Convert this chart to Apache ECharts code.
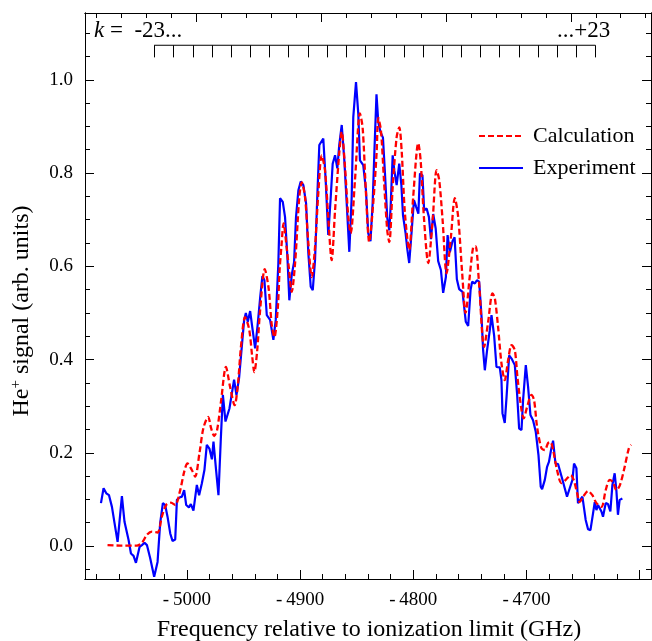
<!DOCTYPE html>
<html><head><meta charset="utf-8">
<script src="https://cdn.jsdelivr.net/npm/echarts@6/dist/echarts.min.js"></script>
<style>html,body{margin:0;padding:0;background:#fff}#c{width:652px;height:641px}</style>
</head><body><div id="c"></div>
<script>
// ---- data ----
const expFreq=[-5075.9,-5073.6,-5071.2,-5068.8,-5066.2,-5063.9,-5061.2,-5057.4,-5055.1,-5051.5,
-5049.4,-5047.1,-5045.0,-5041.8,-5039.7,-5037.4,-5035.3,-5032.4,-5028.9,-5025.9,
-5023.6,-5021.2,-5019.2,-5017.1,-5014.7,-5012.7,-5010.3,-5008.8,-5006.5,-5004.4,
-5002.4,-5000.6,-4998.2,-4996.5,-4994.2,-4991.2,-4989.2,-4986.8,-4984.5,-4982.4,
-4980.1,-4977.9,-4976.5,-4974.2,-4972.1,-4970.0,-4968.2,-4965.9,-4962.4,-4960.3,
-4958.3,-4956.2,-4953.9,-4951.5,-4949.4,-4947.9,-4946.2,-4944.1,-4942.1,-4939.7,
-4937.5,-4935.3,-4933.3,-4931.5,-4929.4,-4926.5,-4923.6,-4921.5,-4919.2,-4917.7,
-4915.3,-4913.3,-4911.2,-4909.5,-4907.4,-4905.3,-4903.6,-4901.5,-4899.4,-4897.1,
-4894.7,-4892.7,-4890.6,-4888.8,-4886.8,-4884.8,-4883.0,-4881.5,-4879.5,-4877.4,
-4875.1,-4872.9,-4871.2,-4869.1,-4867.1,-4865.4,-4863.2,-4860.9,-4858.8,-4856.5,
-4854.4,-4853.0,-4850.6,-4848.6,-4847.1,-4844.2,-4841.8,-4839.8,-4837.8,-4835.9,
-4834.3,-4832.5,-4830.9,-4829.0,-4826.8,-4825.0,-4823.0,-4821.2,-4819.9,-4818.2,
-4816.8,-4814.7,-4812.4,-4810.5,-4809.1,-4806.9,-4805.2,-4803.6,-4801.5,-4799.4,
-4797.4,-4795.5,-4794.1,-4791.9,-4790.4,-4788.2,-4786.2,-4784.4,-4782.4,-4780.2,
-4778.0,-4775.6,-4773.6,-4771.2,-4769.7,-4767.7,-4765.3,-4763.5,-4761.5,-4759.5,
-4756.5,-4753.6,-4751.5,-4749.4,-4748.0,-4745.6,-4743.8,-4741.8,-4739.7,-4738.3,
-4736.8,-4734.8,-4732.4,-4730.9,-4728.6,-4726.5,-4725.1,-4723.6,-4722.1,-4721.2,
-4719.2,-4717.6,-4715.3,-4713.2,-4710.3,-4708.3,-4706.5,-4704.4,-4703.0,-4700.6,
-4698.6,-4696.5,-4694.2,-4691.8,-4689.4,-4687.4,-4686.2,-4683.8,-4681.8,-4680.1,
-4678.3,-4676.5,-4674.4,-4672.1,-4670.6,-4668.2,-4666.2,-4664.2,-4661.8,-4659.4,
-4658.0,-4655.9,-4654.5,-4653.0,-4650.6,-4649.2,-4647.7,-4645.6,-4643.5,-4641.2,
-4639.7,-4638.2,-4636.8,-4633.8,-4632.4,-4630.0,-4628.0,-4625.9,-4624.1,-4622.1,
-4620.6,-4619.2,-4617.7,-4615.3];
const expSignal=[0.092,0.124,0.113,0.109,0.084,0.049,0.009,0.107,0.052,0.013,
-0.016,-0.021,-0.036,-0.002,0.002,0.007,0.002,-0.026,-0.066,-0.034,
0.049,0.092,0.088,0.063,0.027,0.011,0.014,0.099,0.104,0.106,
0.120,0.088,0.083,0.090,0.076,0.131,0.109,0.134,0.163,0.217,
0.209,0.186,0.224,0.163,0.109,0.231,0.324,0.267,0.295,0.327,
0.357,0.324,0.360,0.427,0.485,0.500,0.481,0.504,0.467,0.424,
0.474,0.532,0.579,0.570,0.495,0.485,0.442,0.485,0.606,0.746,
0.738,0.706,0.620,0.527,0.581,0.609,0.705,0.763,0.782,0.774,
0.735,0.628,0.556,0.549,0.613,0.749,0.860,0.862,0.874,0.785,
0.667,0.749,0.820,0.838,0.810,0.860,0.903,0.827,0.735,0.631,
0.749,0.920,0.995,0.928,0.827,0.817,0.763,0.671,0.654,0.735,
0.849,0.969,0.909,0.888,0.876,0.799,0.704,0.677,0.733,0.838,
0.806,0.774,0.820,0.774,0.710,0.673,0.635,0.607,0.673,0.742,
0.727,0.713,0.799,0.795,0.720,0.724,0.706,0.658,0.712,0.681,
0.611,0.592,0.543,0.577,0.667,0.630,0.654,0.662,0.572,0.551,
0.545,0.481,0.472,0.549,0.567,0.563,0.570,0.567,0.492,0.420,
0.377,0.420,0.463,0.495,0.452,0.384,0.381,0.383,0.356,0.285,
0.264,0.320,0.409,0.402,0.388,0.327,0.252,0.249,0.313,0.388,
0.342,0.281,0.270,0.245,0.195,0.127,0.122,0.142,0.170,0.181,
0.206,0.226,0.177,0.176,0.175,0.142,0.124,0.106,0.124,0.142,
0.177,0.167,0.092,0.090,0.106,0.104,0.056,0.036,0.034,0.070,
0.094,0.077,0.088,0.074,0.063,0.092,0.090,0.074,0.131,0.156,
0.120,0.067,0.099,0.102];
const calcFreq=[-5070.1,-5058.9,-5044.1,-5039.7,-5035.3,-5030.9,-5025.9,-5022.1,-5018.3,-5014.1,
-5010.3,-5005.9,-5002.4,-4999.5,-4995.6,-4992.7,-4988.9,-4985.4,-4981.2,-4978.6,
-4975.9,-4973.3,-4969.7,-4965.5,-4961.8,-4957.8,-4955.0,-4952.1,-4948.6,-4945.0,
-4942.4,-4940.4,-4938.0,-4935.3,-4931.2,-4927.8,-4925.0,-4922.7,-4919.7,-4918.1,
-4916.4,-4914.6,-4911.8,-4909.7,-4907.4,-4904.4,-4900.7,-4898.5,-4895.6,-4892.7,
-4889.7,-4886.8,-4883.9,-4880.9,-4878.0,-4875.1,-4872.1,-4869.1,-4865.4,-4863.2,
-4860.3,-4857.4,-4855.3,-4851.5,-4847.1,-4844.7,-4841.8,-4838.9,-4835.4,-4832.4,
-4830.9,-4828.6,-4825.9,-4823.0,-4821.2,-4818.2,-4814.7,-4812.4,-4810.3,-4807.4,
-4803.6,-4800.1,-4795.6,-4793.5,-4790.6,-4786.8,-4782.9,-4779.4,-4777.1,-4774.1,
-4770.6,-4766.8,-4763.3,-4760.4,-4756.8,-4753.8,-4750.0,-4747.1,-4745.0,-4742.1,
-4737.4,-4733.9,-4730.0,-4728.0,-4725.1,-4722.1,-4719.2,-4716.2,-4713.2,-4710.3,
-4707.9,-4704.4,-4702.4,-4699.5,-4695.6,-4693.3,-4690.6,-4686.8,-4683.8,-4680.9,
-4678.8,-4676.5,-4673.0,-4669.1,-4665.3,-4660.9,-4658.3,-4655.3,-4653.0,-4650.1,
-4645.6,-4641.8,-4638.2,-4633.8,-4630.0,-4626.5,-4623.6,-4620.6,-4617.7,-4613.9,
-4609.5,-4607.5];
const calcSignal=[0.002,0.001,0.001,0.007,0.024,0.031,0.029,0.063,0.088,0.093,
0.088,0.120,0.159,0.177,0.163,0.149,0.199,0.253,0.277,0.253,
0.236,0.249,0.313,0.384,0.341,0.302,0.345,0.431,0.491,0.465,
0.409,0.373,0.416,0.506,0.594,0.553,0.474,0.448,0.510,0.592,
0.645,0.692,0.639,0.592,0.545,0.607,0.748,0.780,0.748,0.650,
0.577,0.641,0.757,0.838,0.806,0.705,0.613,0.720,0.843,0.888,
0.812,0.705,0.671,0.785,0.928,0.896,0.757,0.652,0.735,0.843,
0.918,0.892,0.785,0.677,0.652,0.770,0.877,0.898,0.849,0.714,
0.635,0.748,0.864,0.827,0.705,0.607,0.699,0.806,0.785,0.699,
0.585,0.662,0.746,0.707,0.585,0.500,0.581,0.641,0.643,0.570,
0.427,0.480,0.542,0.532,0.470,0.392,0.356,0.399,0.431,0.420,
0.360,0.292,0.274,0.298,0.324,0.313,0.255,0.210,0.206,0.221,
0.223,0.206,0.163,0.135,0.142,0.152,0.142,0.114,0.094,0.105,
0.118,0.109,0.092,0.084,0.120,0.142,0.137,0.120,0.129,0.163,
0.210,0.217];
const xTickLabels=[-5000,-4900,-4800,-4700];
const xMajorTicks=[-5000,-4900,-4800,-4700,-4600];
const yTickLabels=[0,0.2,0.4,0.6,0.8,1.0];
const kRange=[-5028.9,-4639.1];     // ends of the k comb (GHz)
const kTickCount=24;
const kLevels=[1.074,1.048];        // comb bar / tick bottom (signal units)
const kTexts=['-23...','...+23'];
const seriesNames=['Calculation','Experiment'];
// top frame carries its own (unlabelled) tick scale
const topTickStart=-5080, topTickStep=22.06, topTickCount=23, topMajorEvery=5, topMajorOffset=4;

// ---- axis extents & ruler ticks ----
const xMin=-5090,xMax=-4590,yMin=-0.0707,yMax=1.1432;
const xMinor=[];for(let v=-5080;v<=-4600;v+=20)xMinor.push(v);
const yMinor=[];for(let i=-1;i<=22;i++)yMinor.push(+(i*0.05).toFixed(2));
const kTicks=[];for(let i=0;i<kTickCount;i++)kTicks.push(kRange[0]+(kRange[1]-kRange[0])*i/(kTickCount-1));
const topMinor=[],topMajor=[];
for(let i=0;i<topTickCount;i++){const v=+(topTickStart+i*topTickStep).toFixed(2);
  if((i-topMajorOffset)%topMajorEvery===0)topMajor.push(v);else topMinor.push(v);}

const FONT='"Liberation Serif","Times New Roman",serif';
const BLK='#000';
function xAx(g,pos,ticks,len,labels){return{type:'value',gridIndex:g,position:pos,min:xMin,max:xMax,
  axisLine:{show:true,onZero:false,lineStyle:{color:BLK,width:1}},
  axisTick:{show:true,inside:true,length:len,customValues:ticks,lineStyle:{color:BLK,width:1}},
  axisLabel:labels?{show:true,customValues:xTickLabels,formatter:v=>'-\u2009'+Math.abs(v),fontFamily:FONT,fontSize:19,color:BLK,margin:12}:{show:false},
  splitLine:{show:false}};}
function yAx(g,pos,ticks,len,labels){return{type:'value',gridIndex:g,position:pos,min:yMin,max:yMax,
  axisLine:{show:true,onZero:false,lineStyle:{color:BLK,width:1}},
  axisTick:{show:true,inside:true,length:len,customValues:ticks,lineStyle:{color:BLK,width:1}},
  axisLabel:labels?{show:true,customValues:yTickLabels,formatter:v=>v.toFixed(1),fontFamily:FONT,fontSize:19,color:BLK,margin:12}:{show:false},
  splitLine:{show:false}};}

const gridRect={left:85,top:13,right:1,bottom:62,containLabel:false};
const chart=echarts.init(document.getElementById('c'),null,{renderer:'canvas'});
chart.setOption({
  animation:false,
  backgroundColor:'#fff',
  grid:[Object.assign({},gridRect),Object.assign({},gridRect)],
  xAxis:[xAx(0,'bottom',xMajorTicks,9,true),xAx(0,'top',topMajor,9,false),
         xAx(1,'bottom',xMinor,5,false),xAx(1,'top',topMinor,5,false)],
  yAxis:[yAx(0,'left',yTickLabels,9,true),yAx(0,'right',yTickLabels,9,false),
         yAx(1,'left',yMinor,5,false),yAx(1,'right',yMinor,5,false)],
  legend:{data:seriesNames,orient:'vertical',left:473,top:120,itemWidth:44,itemHeight:14,itemGap:10,
    itemStyle:{opacity:0,borderWidth:0},
    textStyle:{fontFamily:FONT,fontSize:22,color:BLK,lineHeight:22,padding:[0,0,0,5]}},
  graphic:[
    {type:'text',x:94,y:31,style:{text:'{i|k}{n| =  '+kTexts[0]+'}',rich:{
      i:{fontFamily:FONT,fontSize:23,fontStyle:'italic',fill:BLK},
      n:{fontFamily:FONT,fontSize:23,fill:BLK}},verticalAlign:'middle',textVerticalAlign:'middle',fill:BLK}},
    {type:'text',x:557,y:31,style:{text:kTexts[1],fontFamily:FONT,fontSize:23,fill:BLK,verticalAlign:'middle',textVerticalAlign:'middle'}},
    {type:'text',x:22,y:311,rotation:Math.PI/2,style:{text:'He{s|+} signal (arb. units)',fontFamily:FONT,fontSize:24,fill:BLK,
      rich:{s:{fontFamily:FONT,fontSize:15,fill:BLK,padding:[0,0,11,0]}},
      align:'center',textAlign:'center',verticalAlign:'middle',textVerticalAlign:'middle'}},
    {type:'text',x:369,y:630,style:{text:'Frequency relative to ionization limit (GHz)',fontFamily:FONT,fontSize:24,fill:BLK,
      align:'center',textAlign:'center',verticalAlign:'middle',textVerticalAlign:'middle'}}
  ],
  series:[
    {name:seriesNames[1],type:'line',xAxisIndex:0,yAxisIndex:0,symbol:'none',z:3,
     data:expFreq.map((f,i)=>[f,expSignal[i]]),lineStyle:{color:'#0000ff',width:2.2},itemStyle:{color:'#0000ff'}},
    {name:seriesNames[0],type:'line',xAxisIndex:0,yAxisIndex:0,symbol:'none',smooth:0.3,z:4,
     data:calcFreq.map((f,i)=>[f,calcSignal[i]]),lineStyle:{color:'#ff0000',width:2.3,type:[6,3]},itemStyle:{color:'#ff0000'}},
    {name:'kbar',type:'line',xAxisIndex:0,yAxisIndex:0,symbol:'none',silent:true,z:5,
     data:[[kRange[0],kLevels[0]],[kRange[1],kLevels[0]]],lineStyle:{color:BLK,width:1}},
    {name:'kticks',type:'custom',xAxisIndex:0,yAxisIndex:0,silent:true,z:5,
     data:kTicks.map(f=>[f,kLevels[1]]),encode:{x:0,y:1},
     renderItem:(p,api)=>{const a=api.coord([api.value(0),kLevels[0]]);const b=api.coord([api.value(0),kLevels[1]]);
       const x=Math.round(a[0])+0.5;
       return{type:'line',shape:{x1:x,y1:a[1],x2:x,y2:b[1]},style:{stroke:BLK,lineWidth:1}};}}
  ]
});
</script></body></html>
